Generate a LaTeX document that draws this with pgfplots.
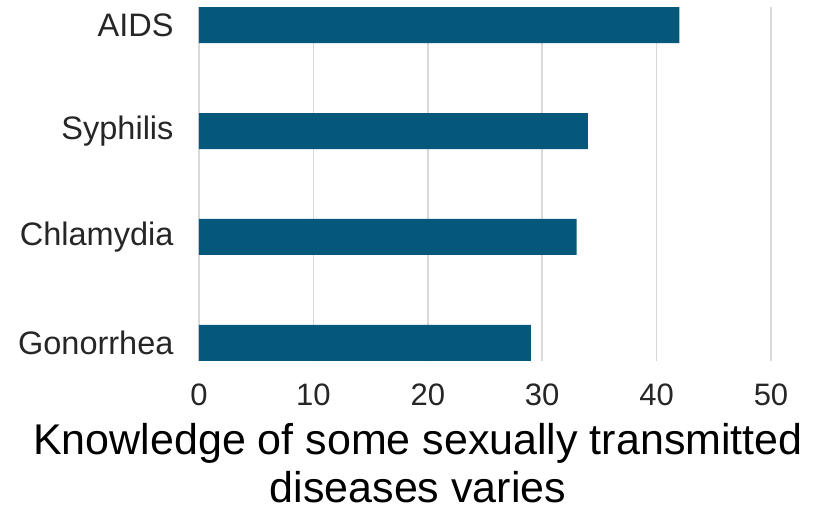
\documentclass[border=0pt]{standalone}
\usepackage{pgfplots}
\pgfplotsset{compat=1.18}
\usepackage{fontspec}
\setmainfont{Liberation Sans}
\definecolor{barc}{HTML}{05587A}
\definecolor{gridc}{HTML}{D9D9D9}
\begin{document}
\begin{tikzpicture}
\begin{axis}[
 scale only axis, width=572pt, height=354pt,
 xbar, bar width=36pt,
 xmin=0, xmax=50, ymin=-0.17, ymax=3.17,
 xtick={0,10,20,30,40,50}, ytick={0,1,2,3},
 yticklabels={Gonorrhea,Chlamydia,Syphilis,AIDS},
 axis line style={draw=none}, major tick length=0pt,
 xmajorgrids, ymajorgrids=false,
 major grid style={gridc, line width=1.6pt},
 tick label style={text=black!85},
 xticklabel style={font=\fontsize{31}{37}\selectfont, yshift=-19pt},
 yticklabel style={font=\fontsize{32.5}{38}\selectfont, xshift=-22pt},
 /pgf/number format/assume math mode=true,
 clip=false,
]
\addplot[fill=barc, draw=none] coordinates {(29,0) (33,1) (34,2) (42,3)};
\node[font=\fontsize{43}{48}\selectfont, align=center, anchor=north, inner sep=0pt] at ([xshift=-67pt,yshift=-62pt]rel axis cs:0.5,0) {Knowledge of some sexually transmitted\\diseases varies};
\end{axis}
\pgfresetboundingbox
\path ([shift={(-199pt,-148pt)}]current axis.south west) rectangle ++(820pt,509pt);
\end{tikzpicture}
\end{document}
